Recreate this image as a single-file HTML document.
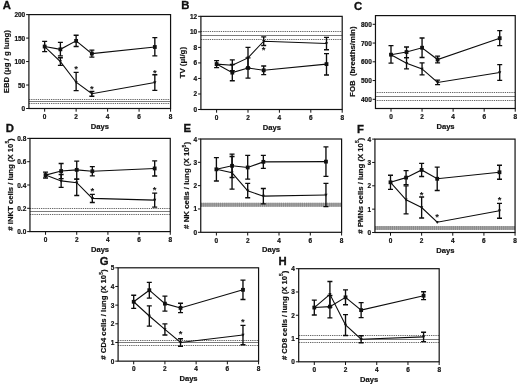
<!DOCTYPE html>
<html><head><meta charset="utf-8"><title>Figure</title>
<style>
html,body{margin:0;padding:0;background:#fff;}
svg{display:block;filter:blur(0.3px);}
text{font-family:"Liberation Sans",sans-serif;font-weight:bold;font-size:7.6px;fill:#111;stroke:#111;stroke-width:0.18px;}
text.t{font-size:6.9px;stroke:#111;stroke-width:0.22px;}
text.L{font-size:10.3px;stroke:#111;stroke-width:0.3px;}
</style></head><body>
<svg width="520" height="385" viewBox="0 0 520 385">
<rect x="0" y="0" width="520" height="385" fill="#fff"/>
<path d="M29.00,99.50 H170.57" stroke="#666" stroke-width="1" stroke-dasharray="1.3,0.9"/>
<path d="M28.91,101.50 H170.57" stroke="#7c7c7c" stroke-width="1"/>
<path d="M29.00,103.50 H170.57" stroke="#666" stroke-width="1" stroke-dasharray="1.3,0.9"/>
<rect x="28.91" y="14.60" width="141.66" height="93.90" fill="none" stroke="#111" stroke-width="1.2"/>
<path d="M26.11,108.50 H28.91" stroke="#111" stroke-width="1"/>
<text class="t" transform="translate(25.21,111.00) scale(0.94,1)" text-anchor="end">0</text>
<path d="M26.11,85.03 H28.91" stroke="#111" stroke-width="1"/>
<text class="t" transform="translate(25.21,87.53) scale(0.94,1)" text-anchor="end">50</text>
<path d="M26.11,61.55 H28.91" stroke="#111" stroke-width="1"/>
<text class="t" transform="translate(25.21,64.05) scale(0.94,1)" text-anchor="end">100</text>
<path d="M26.11,38.08 H28.91" stroke="#111" stroke-width="1"/>
<text class="t" transform="translate(25.21,40.58) scale(0.94,1)" text-anchor="end">150</text>
<path d="M26.11,14.60 H28.91" stroke="#111" stroke-width="1"/>
<text class="t" transform="translate(25.21,17.10) scale(0.94,1)" text-anchor="end">200</text>
<path d="M44.65,108.50 V111.70" stroke="#111" stroke-width="1"/>
<text class="t" transform="translate(44.65,118.70) scale(0.94,1)" text-anchor="middle">0</text>
<path d="M76.13,108.50 V111.70" stroke="#111" stroke-width="1"/>
<text class="t" transform="translate(76.13,118.70) scale(0.94,1)" text-anchor="middle">2</text>
<path d="M107.61,108.50 V111.70" stroke="#111" stroke-width="1"/>
<text class="t" transform="translate(107.61,118.70) scale(0.94,1)" text-anchor="middle">4</text>
<path d="M139.09,108.50 V111.70" stroke="#111" stroke-width="1"/>
<text class="t" transform="translate(139.09,118.70) scale(0.94,1)" text-anchor="middle">6</text>
<path d="M170.57,108.50 V111.70" stroke="#111" stroke-width="1"/>
<text class="t" transform="translate(170.57,118.70) scale(0.94,1)" text-anchor="middle">8</text>
<path d="M44.65,46.53 L60.39,49.34 L76.13,40.89 L91.87,53.57 L154.83,47.00" fill="none" stroke="#0c0c0c" stroke-width="1.1"/>
<path d="M44.65,41.36 V51.69 M42.15,41.36 H47.15 M42.15,51.69 H47.15" fill="none" stroke="#0c0c0c" stroke-width="1.35"/>
<rect x="42.75" y="44.63" width="3.80" height="3.80" fill="#111"/>
<path d="M60.39,42.30 V55.92 M57.89,42.30 H62.89 M57.89,55.92 H62.89" fill="none" stroke="#0c0c0c" stroke-width="1.35"/>
<rect x="58.49" y="47.44" width="3.80" height="3.80" fill="#111"/>
<path d="M76.13,35.26 V46.53 M73.63,35.26 H78.63 M73.63,46.53 H78.63" fill="none" stroke="#0c0c0c" stroke-width="1.35"/>
<rect x="74.23" y="38.99" width="3.80" height="3.80" fill="#111"/>
<path d="M91.87,50.05 V57.09 M89.37,50.05 H94.37 M89.37,57.09 H94.37" fill="none" stroke="#0c0c0c" stroke-width="1.35"/>
<rect x="89.97" y="51.67" width="3.80" height="3.80" fill="#111"/>
<path d="M154.83,37.61 V55.92 M152.33,37.61 H157.33 M152.33,55.92 H157.33" fill="none" stroke="#0c0c0c" stroke-width="1.35"/>
<rect x="152.93" y="45.10" width="3.80" height="3.80" fill="#111"/>
<path d="M44.65,46.53 L60.39,61.55 L76.13,82.21 L91.87,93.71 L154.83,82.44" fill="none" stroke="#0c0c0c" stroke-width="1.1"/>
<path d="M43.05,45.25 H46.25 L44.65,48.29 Z" fill="#111"/>
<path d="M60.39,57.79 V65.31 M57.89,57.79 H62.89 M57.89,65.31 H62.89" fill="none" stroke="#0c0c0c" stroke-width="1.35"/>
<path d="M58.79,60.27 H61.99 L60.39,63.31 Z" fill="#111"/>
<path d="M76.13,72.35 V90.66 M73.63,72.35 H78.63 M73.63,90.66 H78.63" fill="none" stroke="#0c0c0c" stroke-width="1.35"/>
<path d="M74.53,80.93 H77.73 L76.13,83.97 Z" fill="#111"/>
<path d="M91.87,91.36 V96.29 M89.37,91.36 H94.37 M89.37,96.29 H94.37" fill="none" stroke="#0c0c0c" stroke-width="1.35"/>
<path d="M90.27,92.43 H93.47 L91.87,95.47 Z" fill="#111"/>
<path d="M154.83,74.70 V90.42 M152.33,74.70 H157.33 M152.33,90.42 H157.33" fill="none" stroke="#0c0c0c" stroke-width="1.35"/>
<path d="M153.23,81.16 H156.43 L154.83,84.20 Z" fill="#111"/>
<text x="76.13" y="72.39" text-anchor="middle" style="font-size:9.5px;stroke:none">*</text>
<text x="91.87" y="91.87" text-anchor="middle" style="font-size:9.5px;stroke:none">*</text>
<text x="154.83" y="75.67" text-anchor="middle" style="font-size:9.5px;stroke:none">*</text>
<text transform="translate(2.8,8.6) scale(1.10,1)" class="L">A</text>
<text x="99.9" y="129.4" text-anchor="middle">Days</text>
<text transform="translate(9.0,93.3) rotate(-90)" textLength="63.2" lengthAdjust="spacingAndGlyphs">EBD (&#956;g / g lung)</text>
<path d="M201.00,31.50 H342.20" stroke="#666" stroke-width="1" stroke-dasharray="1.3,0.9"/>
<path d="M200.90,35.50 H342.20" stroke="#7c7c7c" stroke-width="1"/>
<path d="M201.00,39.50 H342.20" stroke="#666" stroke-width="1" stroke-dasharray="1.3,0.9"/>
<rect x="200.90" y="16.35" width="141.30" height="93.15" fill="none" stroke="#111" stroke-width="1.2"/>
<path d="M198.10,109.50 H200.90" stroke="#111" stroke-width="1"/>
<text class="t" transform="translate(197.20,112.00) scale(0.94,1)" text-anchor="end">0</text>
<path d="M198.10,93.97 H200.90" stroke="#111" stroke-width="1"/>
<text class="t" transform="translate(197.20,96.47) scale(0.94,1)" text-anchor="end">2</text>
<path d="M198.10,78.45 H200.90" stroke="#111" stroke-width="1"/>
<text class="t" transform="translate(197.20,80.95) scale(0.94,1)" text-anchor="end">4</text>
<path d="M198.10,62.92 H200.90" stroke="#111" stroke-width="1"/>
<text class="t" transform="translate(197.20,65.42) scale(0.94,1)" text-anchor="end">6</text>
<path d="M198.10,47.40 H200.90" stroke="#111" stroke-width="1"/>
<text class="t" transform="translate(197.20,49.90) scale(0.94,1)" text-anchor="end">8</text>
<path d="M198.10,31.88 H200.90" stroke="#111" stroke-width="1"/>
<text class="t" transform="translate(197.20,34.38) scale(0.94,1)" text-anchor="end">10</text>
<path d="M198.10,16.35 H200.90" stroke="#111" stroke-width="1"/>
<text class="t" transform="translate(197.20,18.85) scale(0.94,1)" text-anchor="end">12</text>
<path d="M216.60,109.50 V112.70" stroke="#111" stroke-width="1"/>
<text class="t" transform="translate(216.60,119.70) scale(0.94,1)" text-anchor="middle">0</text>
<path d="M248.00,109.50 V112.70" stroke="#111" stroke-width="1"/>
<text class="t" transform="translate(248.00,119.70) scale(0.94,1)" text-anchor="middle">2</text>
<path d="M279.40,109.50 V112.70" stroke="#111" stroke-width="1"/>
<text class="t" transform="translate(279.40,119.70) scale(0.94,1)" text-anchor="middle">4</text>
<path d="M310.80,109.50 V112.70" stroke="#111" stroke-width="1"/>
<text class="t" transform="translate(310.80,119.70) scale(0.94,1)" text-anchor="middle">6</text>
<path d="M342.20,109.50 V112.70" stroke="#111" stroke-width="1"/>
<text class="t" transform="translate(342.20,119.70) scale(0.94,1)" text-anchor="middle">8</text>
<path d="M216.60,64.09 L232.30,72.63 L248.00,67.97 L263.70,70.30 L326.50,64.09" fill="none" stroke="#0c0c0c" stroke-width="1.1"/>
<path d="M216.60,60.60 V67.58 M214.10,60.60 H219.10 M214.10,67.58 H219.10" fill="none" stroke="#0c0c0c" stroke-width="1.35"/>
<rect x="214.70" y="62.19" width="3.80" height="3.80" fill="#111"/>
<path d="M232.30,64.48 V80.78 M229.80,64.48 H234.80 M229.80,80.78 H234.80" fill="none" stroke="#0c0c0c" stroke-width="1.35"/>
<rect x="230.40" y="70.73" width="3.80" height="3.80" fill="#111"/>
<path d="M248.00,57.88 V78.06 M245.50,57.88 H250.50 M245.50,78.06 H250.50" fill="none" stroke="#0c0c0c" stroke-width="1.35"/>
<rect x="246.10" y="66.07" width="3.80" height="3.80" fill="#111"/>
<path d="M263.70,66.03 V74.57 M261.20,66.03 H266.20 M261.20,74.57 H266.20" fill="none" stroke="#0c0c0c" stroke-width="1.35"/>
<rect x="261.80" y="68.40" width="3.80" height="3.80" fill="#111"/>
<path d="M326.50,53.61 V74.96 M324.00,53.61 H329.00 M324.00,74.96 H329.00" fill="none" stroke="#0c0c0c" stroke-width="1.35"/>
<rect x="324.60" y="62.19" width="3.80" height="3.80" fill="#111"/>
<path d="M216.60,64.09 L232.30,65.25 L248.00,57.88 L263.70,41.19 L326.50,43.52" fill="none" stroke="#0c0c0c" stroke-width="1.1"/>
<path d="M215.00,62.81 H218.20 L216.60,65.85 Z" fill="#111"/>
<path d="M232.30,59.82 V70.69 M229.80,59.82 H234.80 M229.80,70.69 H234.80" fill="none" stroke="#0c0c0c" stroke-width="1.35"/>
<path d="M230.70,63.97 H233.90 L232.30,67.01 Z" fill="#111"/>
<path d="M248.00,47.40 V67.97 M245.50,47.40 H250.50 M245.50,67.97 H250.50" fill="none" stroke="#0c0c0c" stroke-width="1.35"/>
<path d="M246.40,56.60 H249.60 L248.00,59.64 Z" fill="#111"/>
<path d="M263.70,36.92 V45.46 M261.20,36.92 H266.20 M261.20,45.46 H266.20" fill="none" stroke="#0c0c0c" stroke-width="1.35"/>
<path d="M262.10,39.91 H265.30 L263.70,42.95 Z" fill="#111"/>
<path d="M326.50,37.31 V49.73 M324.00,37.31 H329.00 M324.00,49.73 H329.00" fill="none" stroke="#0c0c0c" stroke-width="1.35"/>
<path d="M324.90,42.24 H328.10 L326.50,45.28 Z" fill="#111"/>
<text x="263.70" y="52.83" text-anchor="middle" style="font-size:9.5px;stroke:none">*</text>
<text transform="translate(181.3,8.9) scale(1.10,1)" class="L">B</text>
<text x="271.8" y="129.5" text-anchor="middle">Days</text>
<text transform="translate(185.1,78.3) rotate(-90)" textLength="31.3" lengthAdjust="spacingAndGlyphs">TV (&#956;l/g)</text>
<path d="M375.00,92.50 H515.24" stroke="#666" stroke-width="1" stroke-dasharray="1.3,0.9"/>
<path d="M375.47,96.50 H515.24" stroke="#7c7c7c" stroke-width="1"/>
<path d="M375.00,100.50 H515.24" stroke="#666" stroke-width="1" stroke-dasharray="1.3,0.9"/>
<rect x="375.47" y="15.60" width="139.77" height="92.90" fill="none" stroke="#111" stroke-width="1.2"/>
<path d="M372.67,99.31 H375.47" stroke="#111" stroke-width="1"/>
<text class="t" transform="translate(371.77,101.81) scale(0.94,1)" text-anchor="end">400</text>
<path d="M372.67,80.56 H375.47" stroke="#111" stroke-width="1"/>
<text class="t" transform="translate(371.77,83.06) scale(0.94,1)" text-anchor="end">500</text>
<path d="M372.67,61.81 H375.47" stroke="#111" stroke-width="1"/>
<text class="t" transform="translate(371.77,64.31) scale(0.94,1)" text-anchor="end">600</text>
<path d="M372.67,43.05 H375.47" stroke="#111" stroke-width="1"/>
<text class="t" transform="translate(371.77,45.55) scale(0.94,1)" text-anchor="end">700</text>
<path d="M372.67,24.30 H375.47" stroke="#111" stroke-width="1"/>
<text class="t" transform="translate(371.77,26.80) scale(0.94,1)" text-anchor="end">800</text>
<path d="M391.00,108.50 V111.70" stroke="#111" stroke-width="1"/>
<text class="t" transform="translate(391.00,118.70) scale(0.94,1)" text-anchor="middle">0</text>
<path d="M422.06,108.50 V111.70" stroke="#111" stroke-width="1"/>
<text class="t" transform="translate(422.06,118.70) scale(0.94,1)" text-anchor="middle">2</text>
<path d="M453.12,108.50 V111.70" stroke="#111" stroke-width="1"/>
<text class="t" transform="translate(453.12,118.70) scale(0.94,1)" text-anchor="middle">4</text>
<path d="M484.18,108.50 V111.70" stroke="#111" stroke-width="1"/>
<text class="t" transform="translate(484.18,118.70) scale(0.94,1)" text-anchor="middle">6</text>
<path d="M515.24,108.50 V111.70" stroke="#111" stroke-width="1"/>
<text class="t" transform="translate(515.24,118.70) scale(0.94,1)" text-anchor="middle">8</text>
<path d="M391.00,54.68 L406.53,52.05 L422.06,47.74 L437.59,59.56 L499.71,38.18" fill="none" stroke="#0c0c0c" stroke-width="1.1"/>
<path d="M391.00,45.68 V63.12 M388.50,45.68 H393.50 M388.50,63.12 H393.50" fill="none" stroke="#0c0c0c" stroke-width="1.35"/>
<rect x="389.10" y="52.78" width="3.80" height="3.80" fill="#111"/>
<path d="M406.53,46.99 V57.68 M404.03,46.99 H409.03 M404.03,57.68 H409.03" fill="none" stroke="#0c0c0c" stroke-width="1.35"/>
<rect x="404.63" y="50.15" width="3.80" height="3.80" fill="#111"/>
<path d="M422.06,37.99 V57.49 M419.56,37.99 H424.56 M419.56,57.49 H424.56" fill="none" stroke="#0c0c0c" stroke-width="1.35"/>
<rect x="420.16" y="45.84" width="3.80" height="3.80" fill="#111"/>
<path d="M437.59,56.18 V62.93 M435.09,56.18 H440.09 M435.09,62.93 H440.09" fill="none" stroke="#0c0c0c" stroke-width="1.35"/>
<rect x="435.69" y="57.66" width="3.80" height="3.80" fill="#111"/>
<path d="M499.71,30.68 V45.68 M497.21,30.68 H502.21 M497.21,45.68 H502.21" fill="none" stroke="#0c0c0c" stroke-width="1.35"/>
<rect x="497.81" y="36.28" width="3.80" height="3.80" fill="#111"/>
<path d="M391.00,54.68 L406.53,63.31 L422.06,68.93 L437.59,82.43 L499.71,72.50" fill="none" stroke="#0c0c0c" stroke-width="1.1"/>
<path d="M389.40,53.40 H392.60 L391.00,56.44 Z" fill="#111"/>
<path d="M406.53,57.68 V68.93 M404.03,57.68 H409.03 M404.03,68.93 H409.03" fill="none" stroke="#0c0c0c" stroke-width="1.35"/>
<path d="M404.93,62.03 H408.13 L406.53,65.07 Z" fill="#111"/>
<path d="M422.06,62.93 V74.93 M419.56,62.93 H424.56 M419.56,74.93 H424.56" fill="none" stroke="#0c0c0c" stroke-width="1.35"/>
<path d="M420.46,67.65 H423.66 L422.06,70.69 Z" fill="#111"/>
<path d="M437.59,80.18 V84.68 M435.09,80.18 H440.09 M435.09,84.68 H440.09" fill="none" stroke="#0c0c0c" stroke-width="1.35"/>
<path d="M435.99,81.15 H439.19 L437.59,84.19 Z" fill="#111"/>
<path d="M499.71,64.62 V80.37 M497.21,64.62 H502.21 M497.21,80.37 H502.21" fill="none" stroke="#0c0c0c" stroke-width="1.35"/>
<path d="M498.11,71.22 H501.31 L499.71,74.26 Z" fill="#111"/>
<text transform="translate(353.9,9.8) scale(1.10,1)" class="L">C</text>
<text x="445.5" y="128.9" text-anchor="middle">Days</text>
<text transform="translate(355.1,96.9) rotate(-90)" textLength="70.4" lengthAdjust="spacingAndGlyphs">FOB&#160;&#160;(breaths/min)</text>
<path d="M30.00,208.50 H170.27" stroke="#666" stroke-width="1" stroke-dasharray="1.3,0.9"/>
<path d="M29.96,211.50 H170.27" stroke="#7c7c7c" stroke-width="1"/>
<path d="M30.00,214.50 H170.27" stroke="#666" stroke-width="1" stroke-dasharray="1.3,0.9"/>
<rect x="29.96" y="138.40" width="140.31" height="93.20" fill="none" stroke="#111" stroke-width="1.2"/>
<path d="M27.16,231.60 H29.96" stroke="#111" stroke-width="1"/>
<text class="t" transform="translate(26.26,234.10) scale(0.94,1)" text-anchor="end">0.0</text>
<path d="M27.16,208.30 H29.96" stroke="#111" stroke-width="1"/>
<text class="t" transform="translate(26.26,210.80) scale(0.94,1)" text-anchor="end">0.2</text>
<path d="M27.16,185.00 H29.96" stroke="#111" stroke-width="1"/>
<text class="t" transform="translate(26.26,187.50) scale(0.94,1)" text-anchor="end">0.4</text>
<path d="M27.16,161.70 H29.96" stroke="#111" stroke-width="1"/>
<text class="t" transform="translate(26.26,164.20) scale(0.94,1)" text-anchor="end">0.6</text>
<path d="M27.16,138.40 H29.96" stroke="#111" stroke-width="1"/>
<text class="t" transform="translate(26.26,140.90) scale(0.94,1)" text-anchor="end">0.8</text>
<path d="M45.55,231.60 V234.80" stroke="#111" stroke-width="1"/>
<text class="t" transform="translate(45.55,241.80) scale(0.94,1)" text-anchor="middle">0</text>
<path d="M76.73,231.60 V234.80" stroke="#111" stroke-width="1"/>
<text class="t" transform="translate(76.73,241.80) scale(0.94,1)" text-anchor="middle">2</text>
<path d="M107.91,231.60 V234.80" stroke="#111" stroke-width="1"/>
<text class="t" transform="translate(107.91,241.80) scale(0.94,1)" text-anchor="middle">4</text>
<path d="M139.09,231.60 V234.80" stroke="#111" stroke-width="1"/>
<text class="t" transform="translate(139.09,241.80) scale(0.94,1)" text-anchor="middle">6</text>
<path d="M170.27,231.60 V234.80" stroke="#111" stroke-width="1"/>
<text class="t" transform="translate(170.27,241.80) scale(0.94,1)" text-anchor="middle">8</text>
<path d="M45.55,175.10 L61.14,171.02 L76.73,169.86 L92.32,171.25 L154.68,168.46" fill="none" stroke="#0c0c0c" stroke-width="1.1"/>
<path d="M45.55,172.19 V178.01 M43.05,172.19 H48.05 M43.05,178.01 H48.05" fill="none" stroke="#0c0c0c" stroke-width="1.35"/>
<rect x="43.65" y="173.20" width="3.80" height="3.80" fill="#111"/>
<path d="M61.14,163.45 V178.59 M58.64,163.45 H63.64 M58.64,178.59 H63.64" fill="none" stroke="#0c0c0c" stroke-width="1.35"/>
<rect x="59.24" y="169.12" width="3.80" height="3.80" fill="#111"/>
<path d="M76.73,161.12 V179.18 M74.23,161.12 H79.23 M74.23,179.18 H79.23" fill="none" stroke="#0c0c0c" stroke-width="1.35"/>
<rect x="74.83" y="167.96" width="3.80" height="3.80" fill="#111"/>
<path d="M92.32,166.59 V175.91 M89.82,166.59 H94.82 M89.82,175.91 H94.82" fill="none" stroke="#0c0c0c" stroke-width="1.35"/>
<rect x="90.42" y="169.35" width="3.80" height="3.80" fill="#111"/>
<path d="M154.68,160.88 V176.03 M152.18,160.88 H157.18 M152.18,176.03 H157.18" fill="none" stroke="#0c0c0c" stroke-width="1.35"/>
<rect x="152.78" y="166.56" width="3.80" height="3.80" fill="#111"/>
<path d="M45.55,175.10 L61.14,180.92 L76.73,182.67 L92.32,198.40 L154.68,200.15" fill="none" stroke="#0c0c0c" stroke-width="1.1"/>
<path d="M43.95,173.82 H47.15 L45.55,176.86 Z" fill="#111"/>
<path d="M61.14,174.52 V187.33 M58.64,174.52 H63.64 M58.64,187.33 H63.64" fill="none" stroke="#0c0c0c" stroke-width="1.35"/>
<path d="M59.54,179.64 H62.74 L61.14,182.68 Z" fill="#111"/>
<path d="M76.73,179.18 V195.49 M74.23,179.18 H79.23 M74.23,195.49 H79.23" fill="none" stroke="#0c0c0c" stroke-width="1.35"/>
<path d="M75.13,181.39 H78.33 L76.73,184.43 Z" fill="#111"/>
<path d="M92.32,194.32 V202.47 M89.82,194.32 H94.82 M89.82,202.47 H94.82" fill="none" stroke="#0c0c0c" stroke-width="1.35"/>
<path d="M90.72,197.12 H93.92 L92.32,200.16 Z" fill="#111"/>
<path d="M154.68,193.16 V207.13 M152.18,193.16 H157.18 M152.18,207.13 H157.18" fill="none" stroke="#0c0c0c" stroke-width="1.35"/>
<path d="M153.08,198.87 H156.28 L154.68,201.91 Z" fill="#111"/>
<text x="92.32" y="193.69" text-anchor="middle" style="font-size:9.5px;stroke:none">*</text>
<text x="154.68" y="193.23" text-anchor="middle" style="font-size:9.5px;stroke:none">*</text>
<text transform="translate(5.8,131.5) scale(1.10,1)" class="L">D</text>
<text x="100" y="251.6" text-anchor="middle">Days</text>
<text transform="translate(12.8,230.7) rotate(-90)" textLength="92.4" lengthAdjust="spacingAndGlyphs"># iNKT cells / lung (X 10<tspan dy="-3.5" style="font-size:4.8px">5</tspan><tspan dy="3.5">)</tspan></text>
<rect x="200.75" y="202.85" width="140.85" height="3.90" fill="#ababab"/>
<path d="M201.00,204.80 H341.60" stroke="#8a8a8a" stroke-width="3.90" stroke-dasharray="1.2,0.9"/>
<rect x="200.75" y="139.00" width="140.85" height="93.30" fill="none" stroke="#111" stroke-width="1.2"/>
<path d="M197.95,232.30 H200.75" stroke="#111" stroke-width="1"/>
<text class="t" transform="translate(197.05,234.80) scale(0.94,1)" text-anchor="end">0</text>
<path d="M197.95,208.98 H200.75" stroke="#111" stroke-width="1"/>
<text class="t" transform="translate(197.05,211.48) scale(0.94,1)" text-anchor="end">1</text>
<path d="M197.95,185.65 H200.75" stroke="#111" stroke-width="1"/>
<text class="t" transform="translate(197.05,188.15) scale(0.94,1)" text-anchor="end">2</text>
<path d="M197.95,162.32 H200.75" stroke="#111" stroke-width="1"/>
<text class="t" transform="translate(197.05,164.82) scale(0.94,1)" text-anchor="end">3</text>
<path d="M197.95,139.00 H200.75" stroke="#111" stroke-width="1"/>
<text class="t" transform="translate(197.05,141.50) scale(0.94,1)" text-anchor="end">4</text>
<path d="M216.40,232.30 V235.50" stroke="#111" stroke-width="1"/>
<text class="t" transform="translate(216.40,242.50) scale(0.94,1)" text-anchor="middle">0</text>
<path d="M247.70,232.30 V235.50" stroke="#111" stroke-width="1"/>
<text class="t" transform="translate(247.70,242.50) scale(0.94,1)" text-anchor="middle">2</text>
<path d="M279.00,232.30 V235.50" stroke="#111" stroke-width="1"/>
<text class="t" transform="translate(279.00,242.50) scale(0.94,1)" text-anchor="middle">4</text>
<path d="M310.30,232.30 V235.50" stroke="#111" stroke-width="1"/>
<text class="t" transform="translate(310.30,242.50) scale(0.94,1)" text-anchor="middle">6</text>
<path d="M341.60,232.30 V235.50" stroke="#111" stroke-width="1"/>
<text class="t" transform="translate(341.60,242.50) scale(0.94,1)" text-anchor="middle">8</text>
<path d="M216.40,169.32 L232.05,165.82 L247.70,167.46 L263.35,161.86 L325.95,161.63" fill="none" stroke="#0c0c0c" stroke-width="1.1"/>
<path d="M216.40,157.66 V180.99 M213.90,157.66 H218.90 M213.90,180.99 H218.90" fill="none" stroke="#0c0c0c" stroke-width="1.35"/>
<rect x="214.50" y="167.42" width="3.80" height="3.80" fill="#111"/>
<path d="M232.05,154.16 V177.49 M229.55,154.16 H234.55 M229.55,177.49 H234.55" fill="none" stroke="#0c0c0c" stroke-width="1.35"/>
<rect x="230.15" y="163.92" width="3.80" height="3.80" fill="#111"/>
<path d="M247.70,155.33 V179.12 M245.20,155.33 H250.20 M245.20,179.12 H250.20" fill="none" stroke="#0c0c0c" stroke-width="1.35"/>
<rect x="245.80" y="165.56" width="3.80" height="3.80" fill="#111"/>
<path d="M263.35,155.33 V168.39 M260.85,155.33 H265.85 M260.85,168.39 H265.85" fill="none" stroke="#0c0c0c" stroke-width="1.35"/>
<rect x="261.45" y="159.96" width="3.80" height="3.80" fill="#111"/>
<path d="M325.95,146.93 V176.32 M323.45,146.93 H328.45 M323.45,176.32 H328.45" fill="none" stroke="#0c0c0c" stroke-width="1.35"/>
<rect x="324.05" y="159.73" width="3.80" height="3.80" fill="#111"/>
<path d="M216.40,169.32 L232.05,172.82 L247.70,190.78 L263.35,196.15 L325.95,194.98" fill="none" stroke="#0c0c0c" stroke-width="1.1"/>
<path d="M214.80,168.04 H218.00 L216.40,171.08 Z" fill="#111"/>
<path d="M232.05,156.49 V189.15 M229.55,156.49 H234.55 M229.55,189.15 H234.55" fill="none" stroke="#0c0c0c" stroke-width="1.35"/>
<path d="M230.45,171.54 H233.65 L232.05,174.58 Z" fill="#111"/>
<path d="M247.70,183.32 V197.78 M245.20,183.32 H250.20 M245.20,197.78 H250.20" fill="none" stroke="#0c0c0c" stroke-width="1.35"/>
<path d="M246.10,189.50 H249.30 L247.70,192.54 Z" fill="#111"/>
<path d="M263.35,188.45 V203.84 M260.85,188.45 H265.85 M260.85,203.84 H265.85" fill="none" stroke="#0c0c0c" stroke-width="1.35"/>
<path d="M261.75,194.87 H264.95 L263.35,197.91 Z" fill="#111"/>
<path d="M325.95,183.32 V206.64 M323.45,183.32 H328.45 M323.45,206.64 H328.45" fill="none" stroke="#0c0c0c" stroke-width="1.35"/>
<path d="M324.35,193.70 H327.55 L325.95,196.74 Z" fill="#111"/>
<text transform="translate(183.5,131.5) scale(1.10,1)" class="L">E</text>
<text x="271" y="252.2" text-anchor="middle">Days</text>
<text transform="translate(189.4,228.9) rotate(-90)" textLength="86.9" lengthAdjust="spacingAndGlyphs"># NK cells / lung (X 10<tspan dy="-3.5" style="font-size:4.8px">5</tspan><tspan dy="3.5">)</tspan></text>
<rect x="374.93" y="226.10" width="140.13" height="3.80" fill="#ababab"/>
<path d="M375.00,228.00 H515.06" stroke="#8a8a8a" stroke-width="3.80" stroke-dasharray="1.2,0.9"/>
<rect x="374.93" y="139.10" width="140.13" height="93.40" fill="none" stroke="#111" stroke-width="1.2"/>
<path d="M372.13,232.50 H374.93" stroke="#111" stroke-width="1"/>
<text class="t" transform="translate(371.23,235.00) scale(0.94,1)" text-anchor="end">0</text>
<path d="M372.13,209.15 H374.93" stroke="#111" stroke-width="1"/>
<text class="t" transform="translate(371.23,211.65) scale(0.94,1)" text-anchor="end">1</text>
<path d="M372.13,185.80 H374.93" stroke="#111" stroke-width="1"/>
<text class="t" transform="translate(371.23,188.30) scale(0.94,1)" text-anchor="end">2</text>
<path d="M372.13,162.45 H374.93" stroke="#111" stroke-width="1"/>
<text class="t" transform="translate(371.23,164.95) scale(0.94,1)" text-anchor="end">3</text>
<path d="M372.13,139.10 H374.93" stroke="#111" stroke-width="1"/>
<text class="t" transform="translate(371.23,141.60) scale(0.94,1)" text-anchor="end">4</text>
<path d="M390.50,232.50 V235.70" stroke="#111" stroke-width="1"/>
<text class="t" transform="translate(390.50,242.70) scale(0.94,1)" text-anchor="middle">0</text>
<path d="M421.64,232.50 V235.70" stroke="#111" stroke-width="1"/>
<text class="t" transform="translate(421.64,242.70) scale(0.94,1)" text-anchor="middle">2</text>
<path d="M452.78,232.50 V235.70" stroke="#111" stroke-width="1"/>
<text class="t" transform="translate(452.78,242.70) scale(0.94,1)" text-anchor="middle">4</text>
<path d="M483.92,232.50 V235.70" stroke="#111" stroke-width="1"/>
<text class="t" transform="translate(483.92,242.70) scale(0.94,1)" text-anchor="middle">6</text>
<path d="M515.06,232.50 V235.70" stroke="#111" stroke-width="1"/>
<text class="t" transform="translate(515.06,242.70) scale(0.94,1)" text-anchor="middle">8</text>
<path d="M390.50,182.30 L406.07,177.63 L421.64,169.92 L437.21,178.80 L499.49,172.26" fill="none" stroke="#0c0c0c" stroke-width="1.1"/>
<path d="M390.50,175.29 V189.30 M388.00,175.29 H393.00 M388.00,189.30 H393.00" fill="none" stroke="#0c0c0c" stroke-width="1.35"/>
<rect x="388.60" y="180.40" width="3.80" height="3.80" fill="#111"/>
<path d="M406.07,170.62 V184.63 M403.57,170.62 H408.57 M403.57,184.63 H408.57" fill="none" stroke="#0c0c0c" stroke-width="1.35"/>
<rect x="404.17" y="175.73" width="3.80" height="3.80" fill="#111"/>
<path d="M421.64,163.38 V176.46 M419.14,163.38 H424.14 M419.14,176.46 H424.14" fill="none" stroke="#0c0c0c" stroke-width="1.35"/>
<rect x="419.74" y="168.02" width="3.80" height="3.80" fill="#111"/>
<path d="M437.21,167.12 V190.47 M434.71,167.12 H439.71 M434.71,190.47 H439.71" fill="none" stroke="#0c0c0c" stroke-width="1.35"/>
<rect x="435.31" y="176.90" width="3.80" height="3.80" fill="#111"/>
<path d="M499.49,165.25 V179.26 M496.99,165.25 H501.99 M496.99,179.26 H501.99" fill="none" stroke="#0c0c0c" stroke-width="1.35"/>
<rect x="497.59" y="170.36" width="3.80" height="3.80" fill="#111"/>
<path d="M390.50,182.30 L406.07,199.81 L421.64,207.52 L437.21,222.23 L499.49,210.78" fill="none" stroke="#0c0c0c" stroke-width="1.1"/>
<path d="M388.90,181.02 H392.10 L390.50,184.06 Z" fill="#111"/>
<path d="M406.07,185.80 V213.82 M403.57,185.80 H408.57 M403.57,213.82 H408.57" fill="none" stroke="#0c0c0c" stroke-width="1.35"/>
<path d="M404.47,198.53 H407.67 L406.07,201.57 Z" fill="#111"/>
<path d="M421.64,197.01 V218.02 M419.14,197.01 H424.14 M419.14,218.02 H424.14" fill="none" stroke="#0c0c0c" stroke-width="1.35"/>
<path d="M420.04,206.24 H423.24 L421.64,209.28 Z" fill="#111"/>
<path d="M435.61,220.95 H438.81 L437.21,223.99 Z" fill="#111"/>
<path d="M499.49,203.31 V218.26 M496.99,203.31 H501.99 M496.99,218.26 H501.99" fill="none" stroke="#0c0c0c" stroke-width="1.35"/>
<path d="M497.89,209.50 H501.09 L499.49,212.54 Z" fill="#111"/>
<text x="421.64" y="197.54" text-anchor="middle" style="font-size:9.5px;stroke:none">*</text>
<text x="437.21" y="220.19" text-anchor="middle" style="font-size:9.5px;stroke:none">*</text>
<text x="499.49" y="202.56" text-anchor="middle" style="font-size:9.5px;stroke:none">*</text>
<text transform="translate(356.9,133.0) scale(1.10,1)" class="L">F</text>
<text x="445.4" y="253.0" text-anchor="middle">Days</text>
<text transform="translate(362.8,233.8) rotate(-90)" textLength="96.0" lengthAdjust="spacingAndGlyphs"># PMNs cells / lung (X 10<tspan dy="-3.5" style="font-size:4.8px">5</tspan><tspan dy="3.5">)</tspan></text>
<path d="M118.00,340.50 H258.58" stroke="#666" stroke-width="1" stroke-dasharray="1.3,0.9"/>
<path d="M118.09,342.50 H258.58" stroke="#7c7c7c" stroke-width="1"/>
<path d="M118.00,345.50 H258.58" stroke="#666" stroke-width="1" stroke-dasharray="1.3,0.9"/>
<rect x="118.09" y="267.80" width="140.49" height="93.35" fill="none" stroke="#111" stroke-width="1.2"/>
<path d="M115.29,361.15 H118.09" stroke="#111" stroke-width="1"/>
<text class="t" transform="translate(114.39,363.65) scale(0.94,1)" text-anchor="end">0</text>
<path d="M115.29,342.48 H118.09" stroke="#111" stroke-width="1"/>
<text class="t" transform="translate(114.39,344.98) scale(0.94,1)" text-anchor="end">1</text>
<path d="M115.29,323.81 H118.09" stroke="#111" stroke-width="1"/>
<text class="t" transform="translate(114.39,326.31) scale(0.94,1)" text-anchor="end">2</text>
<path d="M115.29,305.14 H118.09" stroke="#111" stroke-width="1"/>
<text class="t" transform="translate(114.39,307.64) scale(0.94,1)" text-anchor="end">3</text>
<path d="M115.29,286.47 H118.09" stroke="#111" stroke-width="1"/>
<text class="t" transform="translate(114.39,288.97) scale(0.94,1)" text-anchor="end">4</text>
<path d="M115.29,267.80 H118.09" stroke="#111" stroke-width="1"/>
<text class="t" transform="translate(114.39,270.30) scale(0.94,1)" text-anchor="end">5</text>
<path d="M133.70,361.15 V364.35" stroke="#111" stroke-width="1"/>
<text class="t" transform="translate(133.70,371.35) scale(0.94,1)" text-anchor="middle">0</text>
<path d="M164.92,361.15 V364.35" stroke="#111" stroke-width="1"/>
<text class="t" transform="translate(164.92,371.35) scale(0.94,1)" text-anchor="middle">2</text>
<path d="M196.14,361.15 V364.35" stroke="#111" stroke-width="1"/>
<text class="t" transform="translate(196.14,371.35) scale(0.94,1)" text-anchor="middle">4</text>
<path d="M227.36,361.15 V364.35" stroke="#111" stroke-width="1"/>
<text class="t" transform="translate(227.36,371.35) scale(0.94,1)" text-anchor="middle">6</text>
<path d="M258.58,361.15 V364.35" stroke="#111" stroke-width="1"/>
<text class="t" transform="translate(258.58,371.35) scale(0.94,1)" text-anchor="middle">8</text>
<path d="M133.70,301.78 L149.31,290.20 L164.92,303.65 L180.53,307.94 L242.97,289.83" fill="none" stroke="#0c0c0c" stroke-width="1.1"/>
<path d="M133.70,295.24 V308.31 M131.20,295.24 H136.20 M131.20,308.31 H136.20" fill="none" stroke="#0c0c0c" stroke-width="1.35"/>
<rect x="131.80" y="299.88" width="3.80" height="3.80" fill="#111"/>
<path d="M149.31,282.36 V298.05 M146.81,282.36 H151.81 M146.81,298.05 H151.81" fill="none" stroke="#0c0c0c" stroke-width="1.35"/>
<rect x="147.41" y="288.30" width="3.80" height="3.80" fill="#111"/>
<path d="M164.92,296.18 V311.11 M162.42,296.18 H167.42 M162.42,311.11 H167.42" fill="none" stroke="#0c0c0c" stroke-width="1.35"/>
<rect x="163.02" y="301.75" width="3.80" height="3.80" fill="#111"/>
<path d="M180.53,303.27 V312.61 M178.03,303.27 H183.03 M178.03,312.61 H183.03" fill="none" stroke="#0c0c0c" stroke-width="1.35"/>
<rect x="178.63" y="306.04" width="3.80" height="3.80" fill="#111"/>
<path d="M242.97,280.12 V299.54 M240.47,280.12 H245.47 M240.47,299.54 H245.47" fill="none" stroke="#0c0c0c" stroke-width="1.35"/>
<rect x="241.07" y="287.93" width="3.80" height="3.80" fill="#111"/>
<path d="M133.70,301.78 L149.31,315.97 L164.92,329.41 L180.53,342.48 L242.97,335.01" fill="none" stroke="#0c0c0c" stroke-width="1.1"/>
<path d="M132.10,300.50 H135.30 L133.70,303.54 Z" fill="#111"/>
<path d="M149.31,305.89 V326.05 M146.81,305.89 H151.81 M146.81,326.05 H151.81" fill="none" stroke="#0c0c0c" stroke-width="1.35"/>
<path d="M147.71,314.69 H150.91 L149.31,317.73 Z" fill="#111"/>
<path d="M164.92,323.81 V335.01 M162.42,323.81 H167.42 M162.42,335.01 H167.42" fill="none" stroke="#0c0c0c" stroke-width="1.35"/>
<path d="M163.32,328.13 H166.52 L164.92,331.17 Z" fill="#111"/>
<path d="M180.53,338.75 V346.21 M178.03,338.75 H183.03 M178.03,346.21 H183.03" fill="none" stroke="#0c0c0c" stroke-width="1.35"/>
<path d="M178.93,341.20 H182.13 L180.53,344.24 Z" fill="#111"/>
<path d="M242.97,325.30 V344.72 M240.47,325.30 H245.47 M240.47,344.72 H245.47" fill="none" stroke="#0c0c0c" stroke-width="1.35"/>
<path d="M241.37,333.73 H244.57 L242.97,336.77 Z" fill="#111"/>
<text x="180.53" y="337.08" text-anchor="middle" style="font-size:9.5px;stroke:none">*</text>
<text x="242.97" y="325.14" text-anchor="middle" style="font-size:9.5px;stroke:none">*</text>
<text transform="translate(99.7,264.8) scale(1.10,1)" class="L">G</text>
<text x="188.5" y="381.4" text-anchor="middle">Days</text>
<text transform="translate(106.2,359.8) rotate(-90)" textLength="90.3" lengthAdjust="spacingAndGlyphs"># CD4 cells / lung (X 10<tspan dy="-3.5" style="font-size:4.8px">5</tspan><tspan dy="3.5">)</tspan></text>
<path d="M299.00,335.50 H439.18" stroke="#666" stroke-width="1" stroke-dasharray="1.3,0.9"/>
<path d="M298.69,339.50 H439.18" stroke="#7c7c7c" stroke-width="1"/>
<path d="M299.00,342.50 H439.18" stroke="#666" stroke-width="1" stroke-dasharray="1.3,0.9"/>
<rect x="298.69" y="268.70" width="140.49" height="93.10" fill="none" stroke="#111" stroke-width="1.2"/>
<path d="M295.89,361.80 H298.69" stroke="#111" stroke-width="1"/>
<text class="t" transform="translate(294.99,364.30) scale(0.94,1)" text-anchor="end">0</text>
<path d="M295.89,338.52 H298.69" stroke="#111" stroke-width="1"/>
<text class="t" transform="translate(294.99,341.02) scale(0.94,1)" text-anchor="end">1</text>
<path d="M295.89,315.25 H298.69" stroke="#111" stroke-width="1"/>
<text class="t" transform="translate(294.99,317.75) scale(0.94,1)" text-anchor="end">2</text>
<path d="M295.89,291.98 H298.69" stroke="#111" stroke-width="1"/>
<text class="t" transform="translate(294.99,294.48) scale(0.94,1)" text-anchor="end">3</text>
<path d="M295.89,268.70 H298.69" stroke="#111" stroke-width="1"/>
<text class="t" transform="translate(294.99,271.20) scale(0.94,1)" text-anchor="end">4</text>
<path d="M314.30,361.80 V365.00" stroke="#111" stroke-width="1"/>
<text class="t" transform="translate(314.30,372.00) scale(0.94,1)" text-anchor="middle">0</text>
<path d="M345.52,361.80 V365.00" stroke="#111" stroke-width="1"/>
<text class="t" transform="translate(345.52,372.00) scale(0.94,1)" text-anchor="middle">2</text>
<path d="M376.74,361.80 V365.00" stroke="#111" stroke-width="1"/>
<text class="t" transform="translate(376.74,372.00) scale(0.94,1)" text-anchor="middle">4</text>
<path d="M407.96,361.80 V365.00" stroke="#111" stroke-width="1"/>
<text class="t" transform="translate(407.96,372.00) scale(0.94,1)" text-anchor="middle">6</text>
<path d="M439.18,361.80 V365.00" stroke="#111" stroke-width="1"/>
<text class="t" transform="translate(439.18,372.00) scale(0.94,1)" text-anchor="middle">8</text>
<path d="M314.30,307.57 L329.91,306.64 L345.52,297.33 L361.13,310.13 L423.57,295.70" fill="none" stroke="#0c0c0c" stroke-width="1.1"/>
<path d="M314.30,300.12 V315.02 M311.80,300.12 H316.80 M311.80,315.02 H316.80" fill="none" stroke="#0c0c0c" stroke-width="1.35"/>
<rect x="312.40" y="305.67" width="3.80" height="3.80" fill="#111"/>
<path d="M329.91,295.47 V317.81 M327.41,295.47 H332.41 M327.41,317.81 H332.41" fill="none" stroke="#0c0c0c" stroke-width="1.35"/>
<rect x="328.01" y="304.74" width="3.80" height="3.80" fill="#111"/>
<path d="M345.52,289.88 V304.78 M343.02,289.88 H348.02 M343.02,304.78 H348.02" fill="none" stroke="#0c0c0c" stroke-width="1.35"/>
<rect x="343.62" y="295.43" width="3.80" height="3.80" fill="#111"/>
<path d="M361.13,302.68 V317.58 M358.63,302.68 H363.63 M358.63,317.58 H363.63" fill="none" stroke="#0c0c0c" stroke-width="1.35"/>
<rect x="359.23" y="308.23" width="3.80" height="3.80" fill="#111"/>
<path d="M423.57,291.74 V299.66 M421.07,291.74 H426.07 M421.07,299.66 H426.07" fill="none" stroke="#0c0c0c" stroke-width="1.35"/>
<rect x="421.67" y="293.80" width="3.80" height="3.80" fill="#111"/>
<path d="M314.30,307.57 L329.91,294.30 L345.52,325.03 L361.13,339.22 L423.57,336.90" fill="none" stroke="#0c0c0c" stroke-width="1.1"/>
<path d="M312.70,306.29 H315.90 L314.30,309.33 Z" fill="#111"/>
<path d="M329.91,281.50 V307.10 M327.41,281.50 H332.41 M327.41,307.10 H332.41" fill="none" stroke="#0c0c0c" stroke-width="1.35"/>
<path d="M328.31,293.02 H331.51 L329.91,296.06 Z" fill="#111"/>
<path d="M345.52,314.55 V335.50 M343.02,314.55 H348.02 M343.02,335.50 H348.02" fill="none" stroke="#0c0c0c" stroke-width="1.35"/>
<path d="M343.92,323.75 H347.12 L345.52,326.79 Z" fill="#111"/>
<path d="M361.13,335.73 V342.71 M358.63,335.73 H363.63 M358.63,342.71 H363.63" fill="none" stroke="#0c0c0c" stroke-width="1.35"/>
<path d="M359.53,337.94 H362.73 L361.13,340.98 Z" fill="#111"/>
<path d="M423.57,332.24 V341.55 M421.07,332.24 H426.07 M421.07,341.55 H426.07" fill="none" stroke="#0c0c0c" stroke-width="1.35"/>
<path d="M421.97,335.62 H425.17 L423.57,338.66 Z" fill="#111"/>
<text transform="translate(278.6,264.9) scale(1.10,1)" class="L">H</text>
<text x="369.2" y="382.3" text-anchor="middle">Days</text>
<text transform="translate(286.7,360.1) rotate(-90)" textLength="89.5" lengthAdjust="spacingAndGlyphs"># CD8 cells / lung (X 10<tspan dy="-3.5" style="font-size:4.8px">5</tspan><tspan dy="3.5">)</tspan></text>
</svg>
</body></html>
